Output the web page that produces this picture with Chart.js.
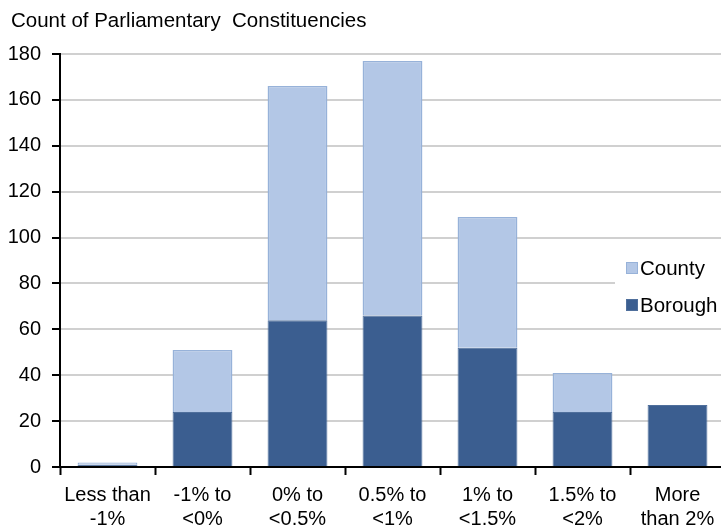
<!DOCTYPE html>
<html>
<head>
<meta charset="utf-8">
<script src="https://cdn.jsdelivr.net/npm/chart.js@4/dist/chart.umd.min.js"></script>
<style>
  html, body { margin: 0; padding: 0; background: #fff; overflow: hidden; }
  #wrap { position: relative; width: 730px; height: 528px; }
</style>
</head>
<body>
<div id="wrap"><canvas id="c"></canvas></div>
<script>
const titleText = "Count of Parliamentary  Constituencies";
const categories = [["Less than","-1%"],["-1% to","<0%"],["0% to","<0.5%"],["0.5% to","<1%"],["1% to","<1.5%"],["1.5% to","<2%"],["More","than 2%"]];
const boroughValues = [1, 24, 64, 66, 52, 24, 27];
const countyValues = [1, 27, 102, 111, 57, 17, 0];
const yTicks = [0, 20, 40, 60, 80, 100, 120, 140, 160, 180];

const FONT = "'Liberation Sans', Arial, sans-serif";

const overlayPlugin = {
  id: 'overlay',
  afterDraw(chart) {
    const ctx = chart.ctx;
    ctx.save();
    // title
    ctx.fillStyle = '#000';
    ctx.font = '20.5px ' + FONT;
    ctx.textBaseline = 'alphabetic';
    ctx.textAlign = 'left';
    ctx.fillText(titleText, 11, 27);
    // legend (reversed order: County on top)
    ctx.fillStyle = '#fff';
    ctx.fillRect(615, 245, 120, 76);
    const items = chart.data.datasets.slice().reverse();
    items.forEach((ds, i) => {
      const cy = 268 + i * 37;
      ctx.fillStyle = ds.backgroundColor;
      ctx.fillRect(626, cy - 6, 12, 12);
      ctx.strokeStyle = ds.borderColor;
      ctx.lineWidth = 1;
      ctx.strokeRect(626.5, cy - 5.5, 11, 11);
      ctx.fillStyle = '#000';
      ctx.font = '20.5px ' + FONT;
      ctx.textBaseline = 'middle';
      ctx.fillText(ds.label, 640, cy + 1);
    });
    ctx.restore();
  }
};

new Chart(document.getElementById('c'), {
  type: 'bar',
  data: {
    labels: categories,
    datasets: [
      { label: 'Borough', data: boroughValues, backgroundColor: '#3b5e90', borderColor: '#4f6f9c', borderWidth: 1, barPercentage: 0.63, categoryPercentage: 1 },
      { label: 'County', data: countyValues, backgroundColor: '#b3c7e6', borderColor: '#97b2d9', borderWidth: 1.5, barPercentage: 0.63, categoryPercentage: 1 }
    ]
  },
  options: {
    responsive: true,
    maintainAspectRatio: false,
    animation: false,
    devicePixelRatio: 1,
    layout: { padding: { top: 54, right: 5, left: 0, bottom: 0 } },
    plugins: { legend: { display: false }, title: { display: false }, tooltip: { enabled: false } },
    scales: {
      x: {
        stacked: true,
        grid: { offset: true, drawOnChartArea: false, drawTicks: true, tickLength: 8, tickColor: '#000', tickWidth: 2 },
        border: { color: '#000', width: 2 },
        ticks: { color: '#000', font: { family: FONT, size: 20, lineHeight: 1.17 }, padding: 9, maxRotation: 0, autoSkip: false },
        afterFit(scale) { scale.height = 61; }
      },
      y: {
        stacked: true,
        min: 0, max: 180,
        afterBuildTicks(scale) { scale.ticks = yTicks.map(v => ({ value: v })); },
        grid: { color: '#d0d0d0', lineWidth: 2, drawTicks: true, tickLength: 8, tickColor: '#000', tickWidth: 2 },
        border: { color: '#000', width: 2 },
        ticks: { color: '#000', font: { family: FONT, size: 20 }, padding: 11 },
        afterFit(scale) { scale.width = 60; }
      }
    }
  },
  plugins: [overlayPlugin]
});
</script>
</body>
</html>
